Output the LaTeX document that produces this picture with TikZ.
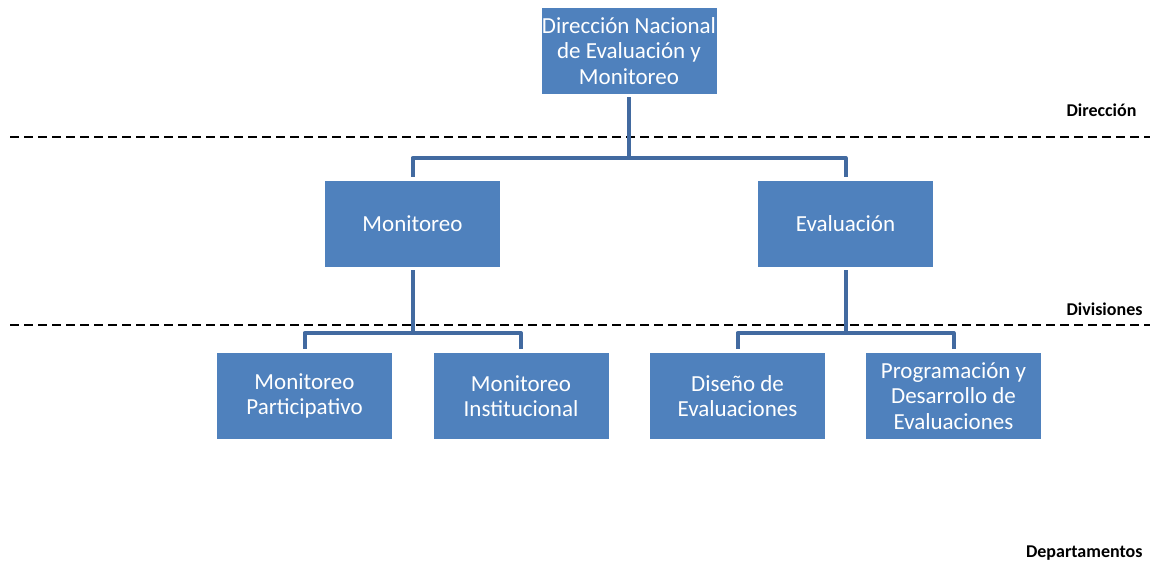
\documentclass[tikz,border=0pt]{standalone}
\usepackage{fontspec}
\setmainfont{Carlito}
\usepackage{xcolor}
\usepackage{tikz}

\definecolor{boxblue}{RGB}{79,129,189}
\definecolor{lineblue}{RGB}{66,106,160}

\begin{document}
\begin{tikzpicture}[x=1pt,y=-1pt,
  unit/.style={fill=boxblue,text=white,minimum width=175pt,minimum height=86pt,
    align=center,inner sep=0pt,font=\fontsize{23}{25.5}\selectfont},
  conn/.style={lineblue,line width=4pt,line join=round,shorten <=3pt,shorten >=4pt},
  level/.style={black,line width=1.8pt,dash pattern=on 9pt off 5pt},
  tag/.style={anchor=base east,font=\fontsize{18}{20}\selectfont\bfseries}]
\useasboundingbox (0,0) rectangle (1150,563);

\node[unit] (dir) at (629,51) {Dirección Nacional\\de Evaluación y\\Monitoreo};
\node[unit] (mon) at (412.5,224) {Monitoreo};
\node[unit] (eva) at (845.5,224) {Evaluación};
\node[unit] (part) at (304.5,396) {Monitoreo\\Participativo};
\node[unit] (inst) at (521,396) {Monitoreo\\Institucional};
\node[unit] (dis) at (737.5,396) {Diseño de\\Evaluaciones};
\node[unit] (prog) at (953.5,396) {Programación y\\Desarrollo de\\Evaluaciones};

% levels
\coordinate (l1a) at (10,137); \coordinate (l1b) at (1150,137);
\coordinate (l2a) at (10,325); \coordinate (l2b) at (1150,325);
\draw[level] (l1a) -- (l1b);
\draw[level] (l2a) -- (l2b);
\node[tag] (tdir) at (1140,116) {Dirección};
\node[tag] (tdiv) at (1146,315) {Divisiones};
\node[tag] (tdep) at (1146,557) {Departamentos};

% connectors
\coordinate (b1) at (0,158);
\coordinate (b2) at (0,333);
\draw[conn] (dir.south) -- (dir.south |- b1) -| (mon.north);
\draw[conn] (dir.south) -- (dir.south |- b1) -| (eva.north);
\draw[conn] (mon.south) -- (mon.south |- b2) -| (part.north);
\draw[conn] (mon.south) -- (mon.south |- b2) -| (inst.north);
\draw[conn] (eva.south) -- (eva.south |- b2) -| (dis.north);
\draw[conn] (eva.south) -- (eva.south |- b2) -| (prog.north);
\end{tikzpicture}
\end{document}
